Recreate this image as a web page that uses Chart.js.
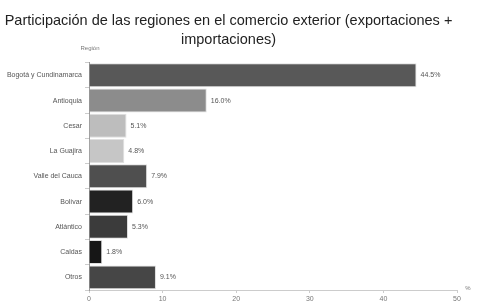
<!DOCTYPE html>
<html>
<head>
<meta charset="utf-8">
<script src="https://cdn.jsdelivr.net/npm/chart.js@4/dist/chart.umd.min.js"></script>
<style>
  html, body { margin: 0; padding: 0; background: #fff; }
  #wrap { width: 477px; height: 302px; }
</style>
</head>
<body>
<div id="wrap"><canvas id="c" width="477" height="302"></canvas></div>
<script>
const titleLines = ["Participación de las regiones en el comercio exterior (exportaciones +", "importaciones)"];
const regions = ["Bogotá y Cundinamarca", "Antioquia", "Cesar", "La Guajira", "Valle del Cauca", "Bolívar", "Atlántico", "Caldas", "Otros"];
const shares = [44.5, 16.0, 5.1, 4.8, 7.9, 6.0, 5.3, 1.8, 9.1];
const xTicks = [0, 10, 20, 30, 40, 50];
const yAxisTitle = "Región";
const xAxisTitle = "%";

const barColors = ["#585858", "#8c8c8c", "#bdbdbd", "#c6c6c6", "#4f4f4f", "#222222", "#3b3b3b", "#161616", "#464646"];
const FONT = "'Liberation Sans', Arial, sans-serif";

const labelPlugin = {
  id: 'labels',
  afterDatasetsDraw(chart) {
    const ctx = chart.ctx;
    const meta = chart.getDatasetMeta(0);
    ctx.save();
    ctx.font = "7px " + FONT;
    ctx.fillStyle = "#555";
    ctx.textAlign = "left";
    ctx.textBaseline = "middle";
    meta.data.forEach((bar, i) => {
      ctx.fillText(shares[i].toFixed(1) + "%", bar.x + 4, bar.y);
    });
    const a = chart.chartArea;
    ctx.textAlign = "center";
    ctx.fillStyle = "#777";
    ctx.font = "6px " + FONT;
    ctx.fillText(yAxisTitle, a.left + 1, 48);
    ctx.fillText(xAxisTitle, a.right + 11, a.bottom - 2);
    ctx.restore();
  }
};

new Chart(document.getElementById('c'), {
  type: 'bar',
  data: {
    labels: regions,
    datasets: [{
      data: shares,
      backgroundColor: barColors,
      borderColor: "rgba(210,210,210,0.7)",
      borderWidth: 1,
      barPercentage: 0.95,
      categoryPercentage: 1.0
    }]
  },
  options: {
    indexAxis: 'y',
    responsive: false,
    animation: false,
    devicePixelRatio: 1,
    layout: { padding: { left: 0, right: 20, top: 0, bottom: 0 } },
    plugins: {
      legend: { display: false },
      tooltip: { enabled: false },
      title: {
        display: true,
        text: titleLines,
        color: "#222",
        font: { family: FONT, size: 14.5, weight: 'normal', lineHeight: 1.3 },
        padding: { top: 12, bottom: 13 }
      }
    },
    scales: {
      x: {
        min: 0, max: 50,
        afterBuildTicks(scale) { scale.ticks = xTicks.map(v => ({ value: v })); },
        afterFit(scale) { scale.height = 12; },
        grid: { display: true, drawOnChartArea: false, color: "#ccc", tickLength: 3 },
        border: { display: true, color: "#ccc" },
        ticks: { color: "#777", font: { family: FONT, size: 7 }, padding: 2, maxRotation: 0 }
      },
      y: {
        afterFit(scale) { scale.width = 89; },
        grid: { display: true, drawOnChartArea: false, color: "#ccc", tickLength: 4, offset: true },
        border: { display: true, color: "#999" },
        ticks: { color: "#555", font: { family: FONT, size: 7 }, padding: 3 }
      }
    }
  },
  plugins: [labelPlugin]
});
</script>
</body>
</html>
